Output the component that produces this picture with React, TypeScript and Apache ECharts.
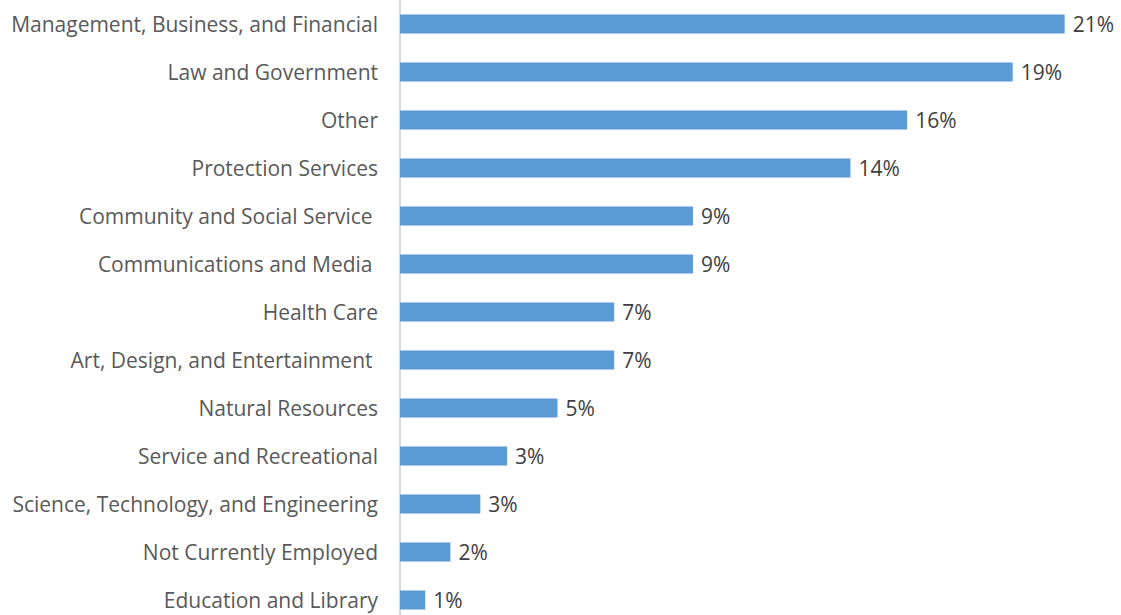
import React, { useEffect, useRef } from "react";
import * as echarts from "echarts";

const categories = [
  "Management, Business, and Financial",
  "Law and Government",
  "Other",
  "Protection Services",
  "Community and Social Service ",
  "Communications and Media ",
  "Health Care",
  "Art, Design, and Entertainment ",
  "Natural Resources",
  "Service and Recreational",
  "Science, Technology, and Engineering",
  "Not Currently Employed",
  "Education and Library",
];

const values = [21.1, 19.45, 16.1, 14.3, 9.3, 9.3, 6.8, 6.8, 5.0, 3.4, 2.55, 1.6, 0.8];

const FONT = "'Open Sans', sans-serif";

export default function App() {
  const ref = useRef<HTMLDivElement>(null);
  useEffect(() => {
    if (!ref.current) return;
    const chart = echarts.init(ref.current, undefined, { renderer: "svg" });
    chart.setOption({
      animation: false,
      grid: { left: 400, top: 0, width: 693, height: 624, containLabel: false },
      xAxis: {
        type: "value",
        min: 0,
        max: 22,
        show: false,
      },
      yAxis: {
        type: "category",
        data: categories,
        inverse: true,
        axisLine: { show: true, lineStyle: { color: "#d9d9d9", width: 2 } },
        axisTick: { show: false },
        axisLabel: {
          margin: 22,
          color: "#595959",
          fontSize: 21,
          fontFamily: FONT,
        },
        splitLine: { show: false },
      },
      series: [
        {
          type: "bar",
          data: values,
          barWidth: 19,
          itemStyle: { color: "#5b9bd5" },
          label: {
            show: true,
            position: "right",
            distance: 8,
            color: "#404040",
            fontSize: 21,
            fontFamily: FONT,
            formatter: (p: any) => Math.round(p.value) + "%",
          },
        },
      ],
    });
    return () => chart.dispose();
  }, []);
  return (
    <div style={{ position: "absolute", left: 0, top: 0, width: 1121, height: 615, overflow: "hidden" }}>
      <div ref={ref} style={{ width: 1121, height: 630 }} />
    </div>
  );
}
